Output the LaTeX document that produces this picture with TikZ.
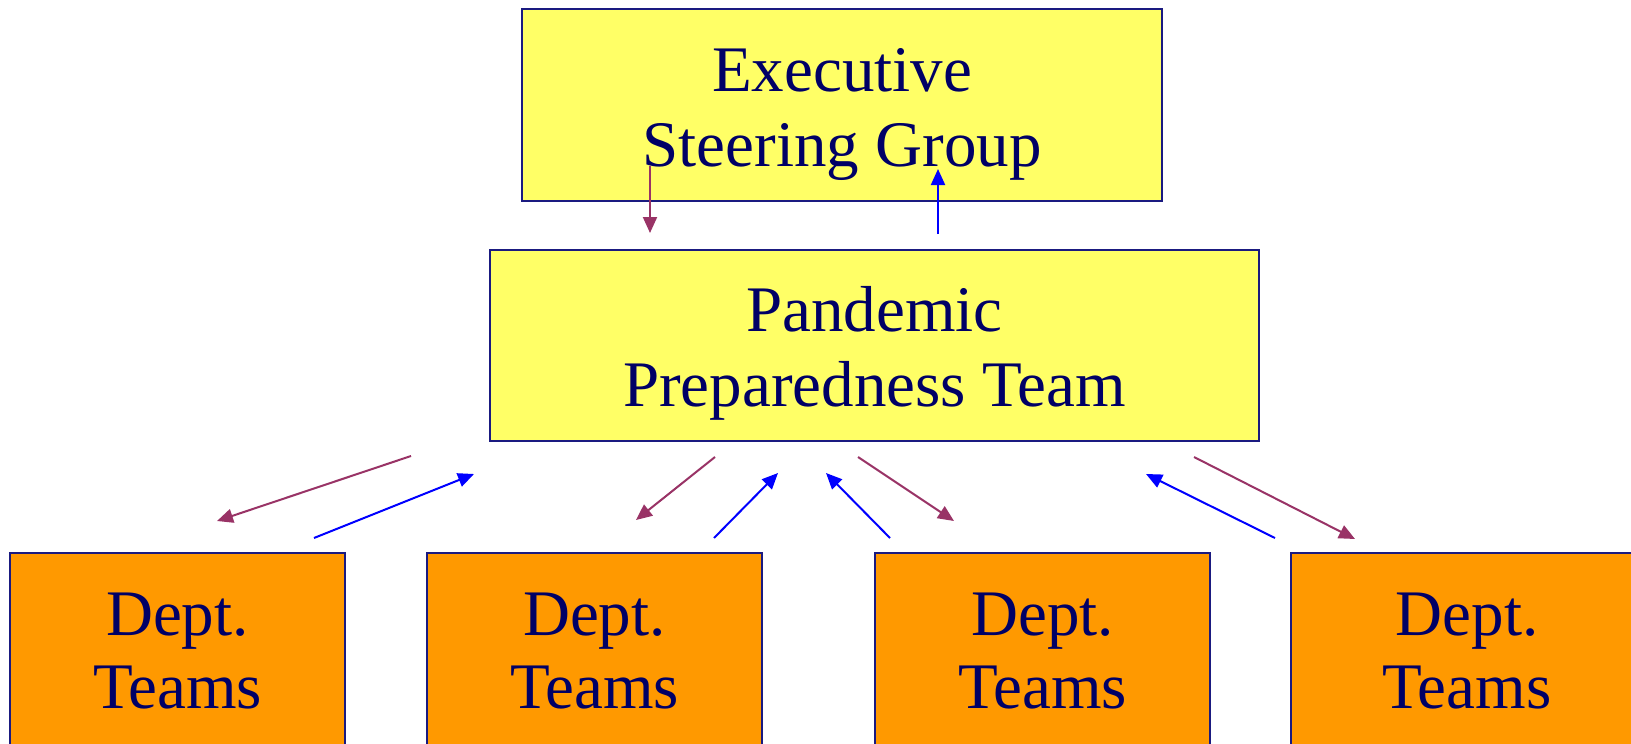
\documentclass[tikz,border=0pt]{standalone}
\usepackage{fontspec}
\setmainfont{Liberation Serif}
\usetikzlibrary{arrows.meta}
\definecolor{boxyellow}{HTML}{FFFF66}
\definecolor{boxorange}{HTML}{FF9900}
\definecolor{boxline}{HTML}{1A1A80}
\definecolor{txtnavy}{HTML}{000066}
\definecolor{downpurple}{HTML}{993366}
\definecolor{upblue}{HTML}{0000FF}
\tikzset{
  panel/.style={draw=boxline, line width=2pt, rectangle, inner sep=0pt},
  ybox/.style={panel, fill=boxyellow},
  obox/.style={panel, fill=boxorange, minimum width=335pt, minimum height=196pt},
  lbl/.style={text=txtnavy, align=center, inner sep=0pt, font=\fontsize{65}{75}\selectfont},
  dlbl/.style={lbl, font=\fontsize{65}{73}\selectfont},
  downarr/.style={draw=downpurple, line width=2pt, -{Triangle[length=16pt,width=14pt]}},
  uparr/.style={draw=upblue, line width=2pt, -{Triangle[length=16pt,width=14pt]}},
}
\begin{document}
\begin{tikzpicture}[x=1pt,y=-1pt]
\useasboundingbox (0,0) rectangle (1631,744);
\clip (0,0) rectangle (1631,744);
\fill[white] (0,0) rectangle (1631,744);
% boxes
\node[ybox, minimum width=640pt, minimum height=192pt] (esg) at (842,105) {};
\node[lbl] (esgt) at (842,114) {Executive\\Steering Group};
\node[ybox, minimum width=769pt, minimum height=191pt] (ppt) at (874.5,345.5) {};
\node[lbl] (pptt) at (874.5,353) {Pandemic\\Preparedness Team};
\node[obox] (d1) at (177.5,651) {};
\node[obox] (d2) at (594.5,651) {};
\node[obox] (d3) at (1042.5,651) {};
\node[obox, minimum width=420pt] (d4) at (1501,651) {};
\node[dlbl] (d1t) at (177.5,651) {Dept.\\Teams};
\node[dlbl] (d2t) at (594.5,651) {Dept.\\Teams};
\node[dlbl] (d3t) at (1042.5,651) {Dept.\\Teams};
\node[dlbl] (d4t) at (1467,651) {Dept.\\Teams};
% arrow end points
\coordinate (a1s) at (650,166); \coordinate (a1e) at (650,233);
\coordinate (a2s) at (938,234); \coordinate (a2e) at (938,169);
\coordinate (b1s) at (411,456); \coordinate (b1e) at (217,521);
\coordinate (b2s) at (314,538); \coordinate (b2e) at (474,474);
\coordinate (b3s) at (715,457); \coordinate (b3e) at (636,520);
\coordinate (b4s) at (714,538); \coordinate (b4e) at (778,473);
\coordinate (b5s) at (890,538); \coordinate (b5e) at (826,473);
\coordinate (b6s) at (858,457); \coordinate (b6e) at (954,521);
\coordinate (b7s) at (1275,538); \coordinate (b7e) at (1146,474);
\coordinate (b8s) at (1194,457); \coordinate (b8e) at (1355,539);
\draw[downarr] (a1s) -- (a1e);
\draw[uparr] (a2s) -- (a2e);
\draw[downarr] (b1s) -- (b1e);
\draw[uparr] (b2s) -- (b2e);
\draw[downarr] (b3s) -- (b3e);
\draw[uparr] (b4s) -- (b4e);
\draw[uparr] (b5s) -- (b5e);
\draw[downarr] (b6s) -- (b6e);
\draw[uparr] (b7s) -- (b7e);
\draw[downarr] (b8s) -- (b8e);
\end{tikzpicture}
\end{document}
